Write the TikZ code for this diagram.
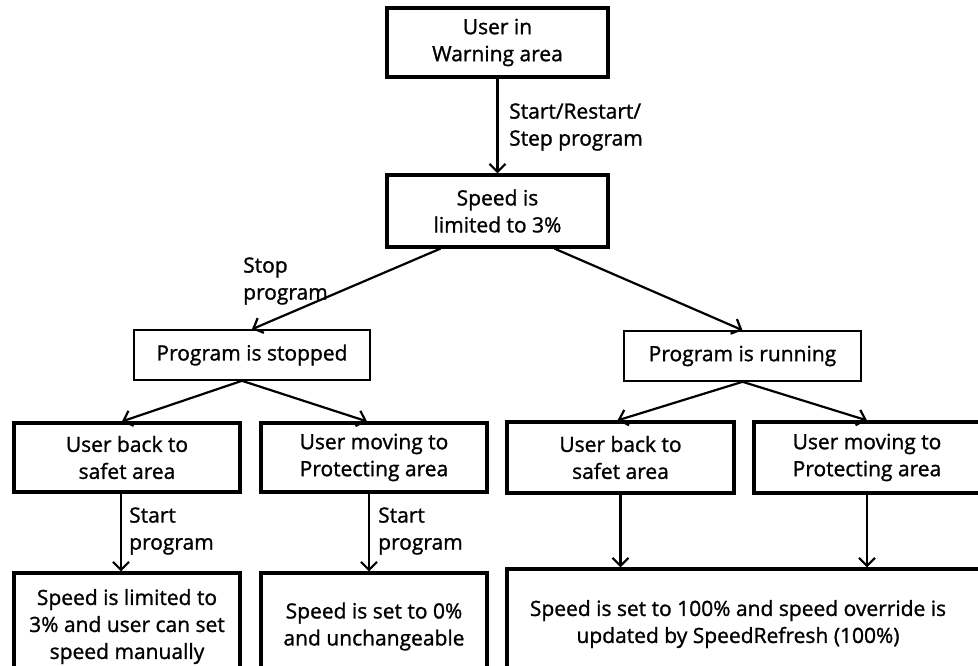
\documentclass[tikz,border=0pt]{standalone}
\usepackage{fontspec}
\setmainfont{Open Sans}[FakeBold=1.2]
\usetikzlibrary{arrows.meta}
\begin{document}
\begin{tikzpicture}[x=1pt,y=-1pt,
  every node/.style={font=\fontsize{21}{27}\selectfont, align=center, inner sep=0pt},
  thickbox/.style={draw, line width=3.2pt, rectangle},
  thinbox/.style={draw, line width=1.6pt, rectangle},
  conn/.style={line width=2.2pt, -{Straight Barb[length=8pt,width=16pt,line width=2.2pt]}},
  lbl/.style={align=left, anchor=west}]
\useasboundingbox (0,0) rectangle (978,666);
% boxes
\node[thickbox, minimum width=221, minimum height=69] (top) at (497.5,42.5) {User in\\Warning area};
\node[thickbox, minimum width=221, minimum height=72] (speed) at (497.5,211) {Speed is\\limited to 3\%};
\node[thinbox, minimum width=236, minimum height=50] (stopped) at (252,355) {Program is stopped};
\node[thinbox, minimum width=237, minimum height=50] (running) at (742.5,356) {Program is running};
\node[thickbox, minimum width=226, minimum height=69] (A1) at (127,457.5) {User back to\\safet area};
\node[thickbox, minimum width=226, minimum height=69] (B1) at (374,457.5) {User moving to\\Protecting area};
\node[thickbox, minimum width=227, minimum height=71] (C1) at (620.5,457.5) {User back to\\safet area};
\node[thickbox, minimum width=226, minimum height=71] (D1) at (867,457.5) {User moving to\\Protecting area};
\node[thickbox, minimum width=226, minimum height=107] (A2) at (127,626.5) {Speed is limited to\\3\% and user can set\\speed manually};
\node[thickbox, minimum width=226, minimum height=107] (B2) at (374,626.5) {Speed is set to 0\%\\and unchangeable};
\node[thickbox, minimum width=483, minimum height=115] (E2) at (748.5,626.5) {};
\node (E2t) at (738,624) {Speed is set to 100\% and speed override is\\updated by SpeedRefresh (100\%)};
% connectors
\draw[conn] (top.south) -- (speed.north);
\draw[conn] ([xshift=-57pt]speed.south) -- (stopped.north);
\draw[conn] ([xshift=57pt]speed.south) -- (running.north);
\draw[conn] ([xshift=-10pt]stopped.south) -- ([xshift=-5pt]A1.north);
\draw[conn] ([xshift=-10pt]stopped.south) -- ([xshift=-7pt]B1.north);
\draw[conn] (running.south) -- ([xshift=-3pt]C1.north);
\draw[conn] (running.south) -- (D1.north);
\draw[conn] ([xshift=-6pt]A1.south) -- ([xshift=-6pt]A2.north);
\draw[conn] ([xshift=-5pt]B1.south) -- ([xshift=-5pt]B2.north);
\draw[conn] (C1.south) -- (C1.south |- E2.north);
\draw[conn] (D1.south) -- (D1.south |- E2.north);
% labels
\node[lbl] (l1) at (509,127) {Start/Restart/\\Step program};
\node[lbl] (l2) at (243,281) {Stop\\program};
\node[lbl] (l3) at (129,531) {Start\\program};
\node[lbl] (l4) at (378,531) {Start\\program};
\end{tikzpicture}
\end{document}
